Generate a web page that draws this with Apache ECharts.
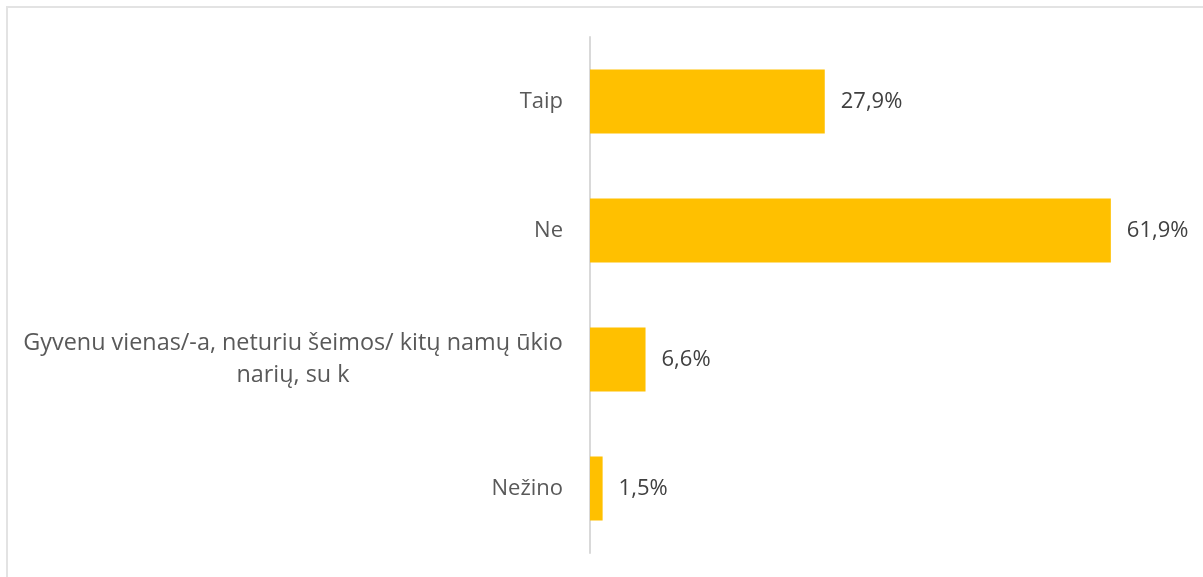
<html>
    <head>
        <meta charset="utf-8">
        <script src="https://cdn.jsdelivr.net/npm/echarts@6/dist/echarts.min.js"></script>
    </head>
    <body style="margin:0">
        <div id="main" style="width:1203px;height:577px"></div>
        <script>

        var categories = ['Taip', 'Ne', 'Gyvenu vienas/-a, neturiu šeimos/ kitų namų ūkio\nnarių, su k', 'Nežino'];
        var values = [27.9, 61.9, 6.6, 1.5];

        var myChart = echarts.init(document.getElementById('main'));

        function pct(v) {
            return v.toFixed(1).replace('.', ',') + '%';
        }

        myChart.setOption({
            backgroundColor: '#fff',
            animation: false,
            textStyle: {fontFamily: 'Open Sans'},
            graphic: [{
                type: 'rect',
                shape: {x: 7, y: 7, width: 1400, height: 800},
                style: {fill: null, stroke: '#e3e3e3', lineWidth: 2},
                silent: true
            }],
            grid: {left: 590, top: 37, width: 589, height: 516},
            xAxis: {
                type: 'value',
                min: 0,
                max: 70,
                show: false
            },
            yAxis: {
                type: 'category',
                inverse: true,
                data: categories,
                axisLine: {lineStyle: {color: '#d9d9d9', width: 2}},
                axisTick: {show: false},
                axisLabel: {
                    margin: 27,
                    color: '#595959',
                    fontSize: 22,
                    formatter: function (v) {
                        var lines = v.split('\n');
                        if (lines.length === 1) return v;
                        return lines.map(function (l) { return '{c|' + l + '}'; }).join('\n');
                    },
                    rich: {
                        c: {width: 540, align: 'center', fontSize: 23.4, color: '#595959', lineHeight: 32}
                    }
                }
            },
            series: [{
                type: 'bar',
                data: values,
                barWidth: 64,
                itemStyle: {color: '#FFC000'},
                label: {
                    show: true,
                    position: 'right',
                    distance: 16,
                    color: '#404040',
                    fontSize: 22,
                    formatter: function (p) { return pct(p.value); }
                }
            }]
        });

        </script>
    </body>
</html>
